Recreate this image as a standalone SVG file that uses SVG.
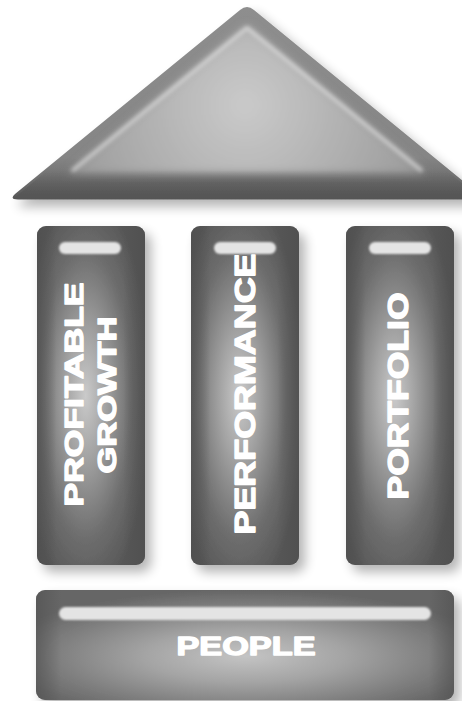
<svg xmlns="http://www.w3.org/2000/svg" width="462" height="701" viewBox="0 0 462 701">
  <defs>
    <filter id="shadow" x="-20%" y="-20%" width="150%" height="150%">
      <feGaussianBlur in="SourceAlpha" stdDeviation="6"/>
      <feOffset dx="6" dy="7" result="b"/>
      <feComponentTransfer><feFuncA type="linear" slope="0.3"/></feComponentTransfer>
      <feMerge><feMergeNode/><feMergeNode in="SourceGraphic"/></feMerge>
    </filter>
    <filter id="soft" x="-20%" y="-20%" width="140%" height="140%">
      <feGaussianBlur stdDeviation="5"/>
    </filter>
    <filter id="soft2" x="-20%" y="-50%" width="140%" height="200%">
      <feGaussianBlur stdDeviation="1.3"/>
    </filter>
    <filter id="soft3" x="-20%" y="-20%" width="140%" height="140%">
      <feGaussianBlur stdDeviation="2.2"/>
    </filter>
    <linearGradient id="triOuter" x1="0" y1="0" x2="0" y2="1">
      <stop offset="0" stop-color="#8e8e8e"/>
      <stop offset="0.78" stop-color="#858585"/>
      <stop offset="0.9" stop-color="#6e6e6e"/>
      <stop offset="1" stop-color="#555555"/>
    </linearGradient>
    <radialGradient id="triInner" gradientUnits="userSpaceOnUse" cx="245" cy="105" r="190">
      <stop offset="0" stop-color="#cacaca"/>
      <stop offset="0.5" stop-color="#b2b2b2"/>
      <stop offset="1" stop-color="#9a9a9a"/>
    </radialGradient>
    <linearGradient id="triBottom" x1="0" y1="0" x2="0" y2="1">
      <stop offset="0" stop-color="#555" stop-opacity="0"/>
      <stop offset="1" stop-color="#555" stop-opacity="0.9"/>
    </linearGradient>
    <radialGradient id="pillarFill" cx="0.45" cy="0.5" r="0.6">
      <stop offset="0" stop-color="#cacaca"/>
      <stop offset="0.3" stop-color="#a4a4a4"/>
      <stop offset="0.7" stop-color="#6e6e6e"/>
      <stop offset="1" stop-color="#575757"/>
    </radialGradient>
    <linearGradient id="pillarSide" x1="0" y1="0" x2="1" y2="0">
      <stop offset="0" stop-color="#4e4e4e" stop-opacity="0.7"/>
      <stop offset="0.18" stop-color="#4e4e4e" stop-opacity="0"/>
      <stop offset="0.8" stop-color="#4e4e4e" stop-opacity="0"/>
      <stop offset="1" stop-color="#4e4e4e" stop-opacity="0.7"/>
    </linearGradient>
    <radialGradient id="baseFill" cx="0.5" cy="0.6" r="0.6">
      <stop offset="0" stop-color="#c4c4c4"/>
      <stop offset="0.4" stop-color="#a4a4a4"/>
      <stop offset="0.8" stop-color="#7a7a7a"/>
      <stop offset="1" stop-color="#666666"/>
    </radialGradient>
    <linearGradient id="baseSide" x1="0" y1="0" x2="1" y2="0">
      <stop offset="0" stop-color="#505050" stop-opacity="0.6"/>
      <stop offset="0.06" stop-color="#505050" stop-opacity="0"/>
      <stop offset="0.94" stop-color="#505050" stop-opacity="0"/>
      <stop offset="1" stop-color="#505050" stop-opacity="0.6"/>
    </linearGradient>
    <style>
      .lbl { font-family: "Liberation Sans", Arial, sans-serif; font-weight: 700; fill: #ffffff; stroke: #ffffff; stroke-width: 1.3; stroke-linejoin: round; }
      .bar { fill: #e4e4e4; filter: url(#soft2); }
    </style>
    <clipPath id="triClip">
      <path d="M13,199 L240,10 Q247,4 254,10 L481,199 Z"/>
    </clipPath>
  </defs>

  <rect width="462" height="701" fill="#ffffff"/>

  <g id="roof" filter="url(#shadow)">
    <path d="M18,199.5 Q9,199.5 15,194 L240,10 Q247,4 254,10 L479,194 Q485,199.5 476,199.5 Z" fill="url(#triOuter)"/>
    <g clip-path="url(#triClip)">
      <path d="M68,174 L247,26 L426,174 Z" fill="url(#triInner)" filter="url(#soft)"/>
      <rect x="0" y="170" width="481" height="30" fill="url(#triBottom)"/>
      <path d="M72,171 L247,28 L422,171" fill="none" stroke="#e6e6e6" stroke-width="3.5" stroke-opacity="0.8" filter="url(#soft3)"/>
    </g>
  </g>

  <g id="pillar-profitable-growth">
    <g filter="url(#shadow)">
      <rect x="37" y="226" width="108" height="339" rx="9" fill="url(#pillarFill)"/>
    </g>
    <rect x="37" y="226" width="108" height="339" rx="9" fill="url(#pillarSide)"/>
    <rect x="59" y="242" width="62" height="12" rx="6" class="bar"/>
    <text class="lbl" font-size="26" text-anchor="middle" textLength="224" lengthAdjust="spacingAndGlyphs" transform="translate(82.5,394.5) rotate(-90)">PROFITABLE</text>
    <text class="lbl" font-size="26" text-anchor="middle" textLength="157" lengthAdjust="spacingAndGlyphs" transform="translate(116,395) rotate(-90)">GROWTH</text>
  </g>

  <g id="pillar-performance">
    <g filter="url(#shadow)">
      <rect x="191" y="226" width="108" height="339" rx="9" fill="url(#pillarFill)"/>
    </g>
    <rect x="191" y="226" width="108" height="339" rx="9" fill="url(#pillarSide)"/>
    <rect x="214" y="242" width="62" height="12" rx="6" class="bar"/>
    <text class="lbl" font-size="30" text-anchor="middle" textLength="281" lengthAdjust="spacingAndGlyphs" transform="translate(254.5,394) rotate(-90)">PERFORMANCE</text>
  </g>

  <g id="pillar-portfolio">
    <g filter="url(#shadow)">
      <rect x="346" y="226" width="108" height="339" rx="9" fill="url(#pillarFill)"/>
    </g>
    <rect x="346" y="226" width="108" height="339" rx="9" fill="url(#pillarSide)"/>
    <rect x="369" y="242" width="62" height="12" rx="6" class="bar"/>
    <text class="lbl" font-size="29" text-anchor="middle" textLength="207" lengthAdjust="spacingAndGlyphs" transform="translate(407.5,396) rotate(-90)">PORTFOLIO</text>
  </g>

  <g id="base-people">
    <g filter="url(#shadow)">
      <rect x="36" y="590" width="418" height="110" rx="9" fill="url(#baseFill)"/>
    </g>
    <rect x="36" y="590" width="418" height="110" rx="9" fill="url(#baseSide)"/>
    <rect x="59" y="607" width="372" height="13" rx="6.5" class="bar"/>
    <text class="lbl" font-size="25" text-anchor="middle" textLength="139" lengthAdjust="spacingAndGlyphs" x="246" y="655">PEOPLE</text>
  </g>
</svg>
